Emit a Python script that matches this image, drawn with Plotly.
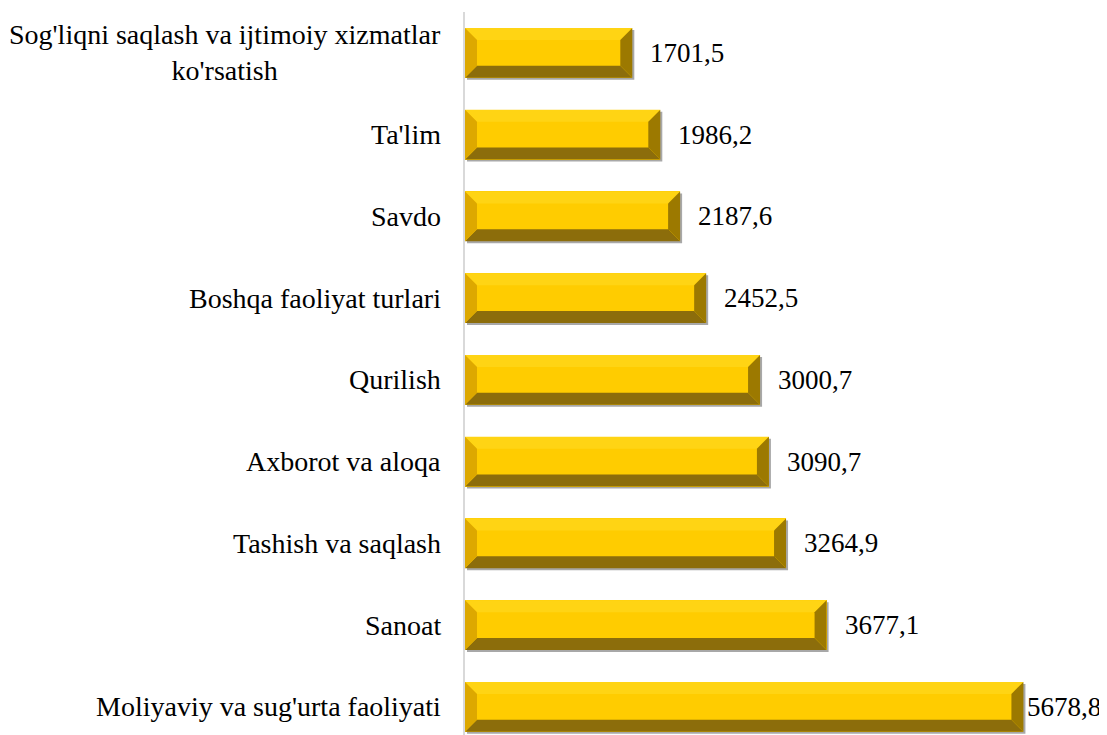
import plotly.graph_objects as go

# ---- data (top to bottom as shown) ----
categories = [
    "Sog'liqni saqlash va ijtimoiy xizmatlar<br>ko'rsatish",
    "Ta'lim",
    "Savdo",
    "Boshqa faoliyat turlari",
    "Qurilish",
    "Axborot va aloqa",
    "Tashish va saqlash",
    "Sanoat",
    "Moliyaviy va sug'urta faoliyati",
]
values = [1701.5, 1986.2, 2187.6, 2452.5, 3000.7, 3090.7, 3264.9, 3677.1, 5678.8]
value_labels = [f"{v:.1f}".replace(".", ",") for v in values]

# ---- layout geometry (page has an 8px body margin) ----
W, H = 1099, 727
ML, MT, MB = 457, 4, 0
PLOT_W = 590
MR = W - ML - PLOT_W
XMAX = 6000
YMIN, YMAX = -0.344, 8.5
BAR_W = 0.61
px_x = PLOT_W / XMAX
px_y = (H - MT - MB) / (YMAX - YMIN)
BEV = 12  # bevel size in px
bx, by = BEV / px_x, BEV / px_y
sx, sy = 2 / px_x, 2 / px_y

FACE = "#FFCC00"
TOP = "#FFD414"
LEFT = "#DDA800"
BOTTOM = "#8C6D0B"
RIGHT = "#9C7900"
SHADOW = "#A8A8A8"
FONT = "Liberation Serif"
FS = 28
FS_VAL = 27

n = len(categories)
ypos = [n - 1 - i for i in range(n)]

fig = go.Figure()
fig.add_trace(go.Bar(
    y=ypos, x=values, orientation="h", width=BAR_W,
    marker=dict(color=FACE, line=dict(width=0)),
    hoverinfo="skip", showlegend=False,
))


def poly(pts):
    return "M " + " L ".join(f"{x},{y}" for x, y in pts) + " Z"


shapes = []
annotations = []
for cat, v, lab, c in zip(categories, values, value_labels, ypos):
    x0, x1 = 0.0, v
    yb, yt = c - BAR_W / 2, c + BAR_W / 2
    # shadow
    shapes.append(dict(type="rect", xref="x", yref="y", layer="below",
                       x0=x0 + sx, x1=x1 + sx, y0=yb - sy, y1=yt - sy,
                       fillcolor=SHADOW, line=dict(width=0)))
    bevels = [
        ([(x0, yt), (x1, yt), (x1 - bx, yt - by), (x0 + bx, yt - by)], TOP),
        ([(x0, yb), (x1, yb), (x1 - bx, yb + by), (x0 + bx, yb + by)], BOTTOM),
        ([(x0, yb), (x0, yt), (x0 + bx, yt - by), (x0 + bx, yb + by)], LEFT),
        ([(x1, yb), (x1, yt), (x1 - bx, yt - by), (x1 - bx, yb + by)], RIGHT),
    ]
    for pts, col in bevels:
        shapes.append(dict(type="path", xref="x", yref="y", layer="above",
                           path=poly(pts), fillcolor=col, line=dict(width=0)))
    # category label
    annotations.append(dict(
        xref="paper", x=0, yref="y", y=c, xanchor="right", yanchor="middle",
        xshift=-22, text=cat, showarrow=False, align="center",
        font=dict(family=FONT, size=FS, color="black")))
    # value label (kept inside the figure if it would overflow)
    est_w = 0.5 * FS_VAL * (len(lab) - 1) + 0.25 * FS_VAL
    v_px = ML + v * px_x
    shift = min(16, (W - 8) - est_w - v_px)
    annotations.append(dict(
        xref="x", x=v, yref="y", y=c, xanchor="left", yanchor="middle",
        xshift=shift, text=lab, showarrow=False,
        font=dict(family=FONT, size=FS_VAL, color="black")))

fig.update_layout(
    width=W, height=H,
    margin=dict(l=ML, r=MR, t=MT, b=MB, pad=0),
    paper_bgcolor="white", plot_bgcolor="white",
    shapes=shapes, annotations=annotations,
    xaxis=dict(range=[0, XMAX], visible=False, fixedrange=True),
    yaxis=dict(range=[YMIN, YMAX], showticklabels=False, showgrid=False,
               zeroline=False, ticks="", showline=True,
               linecolor="#D9D9D9", linewidth=2, fixedrange=True),
    bargap=0,
)

fig.write_html("out.html")
